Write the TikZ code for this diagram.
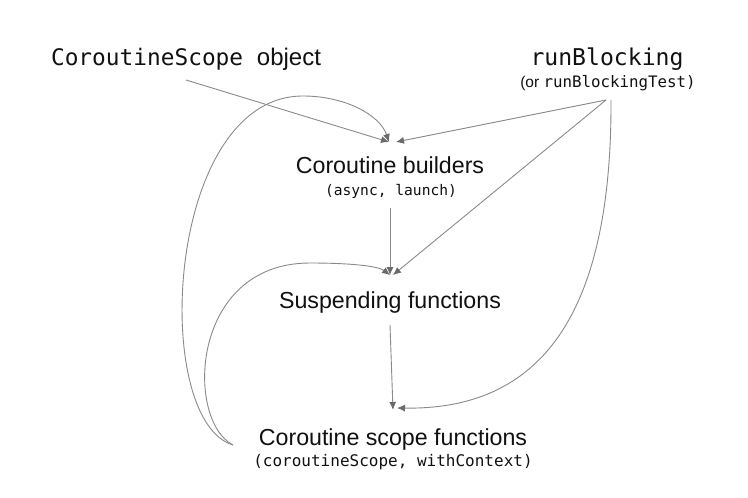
\documentclass[tikz,border=0pt]{standalone}
\usepackage{fontspec}
\setmainfont{Liberation Sans}
\setmonofont{DejaVu Sans Mono}
\usetikzlibrary{arrows.meta}
\definecolor{linegray}{HTML}{8A8A8A}
\definecolor{headgray}{HTML}{6A6A6A}
\definecolor{txt}{HTML}{111111}
\tikzset{
  lbl/.style={anchor=base, inner sep=0pt, text=txt},
  conn/.style={draw=linegray, line width=0.9pt,
    -{Latex[length=8pt,width=7pt,color=headgray]}},
}
\newcommand{\fs}[1]{\fontsize{#1}{#1}\selectfont}
\begin{document}
\begin{tikzpicture}[x=1pt,y=-1pt]
\useasboundingbox[fill=white] (0,0) rectangle (748,498);

% text nodes
\node[lbl] (cso) at (186,65) {\ttfamily\fs{22.8}CoroutineScope \rmfamily\fs{24}object};
\node[lbl] (rb) at (607,65) {\ttfamily\fs{23.1}runBlocking};
\node[lbl] (rbsub) at (608,87) {\rmfamily\fs{15.5}(or \ttfamily\fs{15.8}runBlockingTest)};
\node[lbl] (cb) at (390,173) {\rmfamily\fs{23.2}Coroutine builders};
\node[lbl] (cbsub) at (391,195) {\ttfamily\fs{14.6}(async, launch)};
\node[lbl] (sf) at (390,308) {\rmfamily\fs{23.2}Suspending functions};
\node[lbl] (scf) at (393,445) {\rmfamily\fs{23.2}Coroutine scope functions};
\node[lbl] (scfsub) at (393,466) {\ttfamily\fs{16}(coroutineScope, withContext)};

% connector end points
\coordinate (csoOut) at (186,80);
\coordinate (rbOutA) at (606,100);
\coordinate (rbOutB) at (611,100);
\coordinate (cbInL) at (389,142);
\coordinate (cbInR) at (396,142);
\coordinate (cbOut) at (390,208);
\coordinate (sfIn) at (390,275);
\coordinate (sfInR) at (393,275);
\coordinate (sfOut) at (390,325);
\coordinate (scfIn) at (393,410);
\coordinate (scfInR) at (397,408);
\coordinate (scfOut) at (233,445);
\coordinate (outerTop) at (303,96);
\coordinate (innerTop) at (310,263);

% connectors
\draw[conn] (csoOut) -- (cbInL);
\draw[conn] (rbOutA) -- (cbInR);
\draw[conn] (rbOutA) -- (sfInR);
\draw[conn] (cbOut) -- (sfIn);
\draw[conn] (sfOut) -- (scfIn);
\draw[conn] (rbOutB) .. controls (612,330) and (530,410) .. (scfInR);
\draw[conn] (scfOut) .. controls (150,420) and (165,96) .. (outerTop)
  .. controls (345,96) and (380,115) .. (cbInL);
\draw[conn] (scfOut) .. controls (185,420) and (190,263) .. (innerTop)
  .. controls (350,263) and (378,266) .. (sfIn);
\end{tikzpicture}
\end{document}
